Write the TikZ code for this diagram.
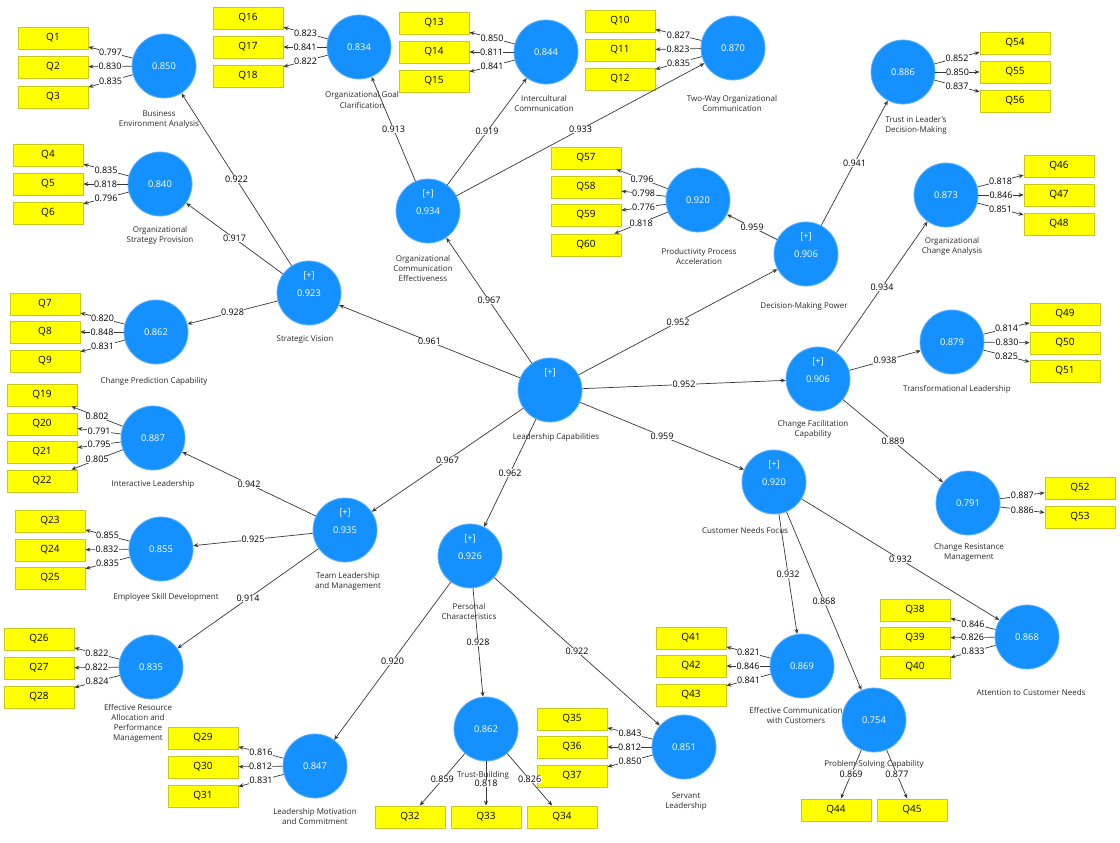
\documentclass[tikz,border=0pt]{standalone}
\usepackage{fontspec}
\setmainfont{Open Sans}
\usetikzlibrary{arrows.meta}
\definecolor{lvblue}{RGB}{20,145,255}
\definecolor{lvedge}{RGB}{95,178,255}
\definecolor{indyellow}{RGB}{255,255,0}
\definecolor{indedge}{RGB}{200,200,30}
\definecolor{pathgray}{RGB}{55,55,55}
\definecolor{namegray}{RGB}{40,40,40}
\tikzset{
  lv/.style={circle, fill=lvblue, draw=lvedge, line width=0.8pt, minimum size=64pt, inner sep=0pt, text=white, font=\fontsize{9.3}{10}\selectfont},
  hoc/.style={lv, label={[text=white, font=\fontsize{9.3}{10}\selectfont, yshift=17pt]center:{[+]}}},
  ind/.style={rectangle, fill=indyellow, draw=indedge, line width=0.8pt, minimum width=70pt, minimum height=22pt, inner sep=0pt, font=\fontsize{10}{11}\selectfont},
  lvname/.style={align=center, text=namegray, inner sep=1pt, font=\fontsize{8}{10}\selectfont},
  coef/.style={fill=white, inner sep=0.5pt, font=\fontsize{9}{9}\selectfont},
  rel/.style={-{Stealth[length=5pt,width=4pt]}, draw=pathgray, line width=0.7pt},
}
\begin{document}
\begin{tikzpicture}[x=1pt, y=-1pt]
\useasboundingbox (0,0) rectangle (1120,843);

\node (lc) at (550,390) [hoc] {};
\node (lc-n) at (556,437) [lvname] {Leadership Capabilities};

\node (sv) at (309,293) [hoc] {0.923};
\node (sv-n) at (305,340) [lvname] {Strategic Vision};
\node (oce) at (428,211) [hoc] {0.934};
\node (oce-n) at (423,268) [lvname] {Organizational\\Communication\\Effectiveness};
\node (dmp) at (806,254) [hoc] {0.906};
\node (dmp-n) at (804,306) [lvname] {Decision-Making Power};
\node (cfc) at (818,379) [hoc] {0.906};
\node (cfc-n) at (813,429) [lvname] {Change Facilitation\\Capability};
\node (cnf) at (774,482) [hoc] {0.920};
\node (cnf-n) at (745,530) [lvname] {Customer Needs Focus};
\node (pc) at (470,556) [hoc] {0.926};
\node (pc-n) at (469,611) [lvname] {Personal\\Characteristics};
\node (tlm) at (345,530) [hoc] {0.935};
\node (tlm-n) at (348,581) [lvname] {Team Leadership\\and Management};

\node (bea) at (164,66) [lv] {0.850};
\node (bea-n) at (159,120) [lvname] {Business\\Environment Analysis};
\node (osp) at (160,184) [lv] {0.840};
\node (osp-n) at (160,235) [lvname] {Organizational\\Strategy Provision};
\node (cpc) at (156,332) [lv] {0.862};
\node (cpc-n) at (154,381) [lvname] {Change Prediction Capability};
\node (ogc) at (359,47) [lv] {0.834};
\node (ogc-n) at (362,100) [lvname] {Organizational Goal\\Clarification};
\node (ic) at (546,52) [lv] {0.844};
\node (ic-n) at (544,104) [lvname] {Intercultural\\Communication};
\node (twoc) at (733,48) [lv] {0.870};
\node (twoc-n) at (732,104) [lvname] {Two-Way Organizational\\Communication};
\node (ppa) at (698,200) [lv] {0.920};
\node (ppa-n) at (699,256) [lvname] {Productivity Process\\Acceleration};
\node (tldm) at (903,72) [lv] {0.886};
\node (tldm-n) at (916,125) [lvname] {Trust in Leader's\\Decision-Making};
\node (oca) at (946,195) [lv] {0.873};
\node (oca-n) at (952,246) [lvname] {Organizational\\Change Analysis};
\node (tl) at (952,342) [lv] {0.879};
\node (tl-n) at (957,389) [lvname] {Transformational Leadership};
\node (crm) at (968,503) [lv] {0.791};
\node (crm-n) at (969,552) [lvname] {Change Resistance\\Management};
\node (ecc) at (802,666) [lv] {0.869};
\node (ecc-n) at (796,715) [lvname] {Effective Communication\\with Customers};
\node (psc) at (874,720) [lv] {0.754};
\node (psc-n) at (874,764) [lvname] {Problem-Solving Capability};
\node (acn) at (1027,637) [lv] {0.868};
\node (acn-n) at (1031,692) [lvname] {Attention to Customer Needs};
\node (il) at (153,438) [lv] {0.887};
\node (il-n) at (153,484) [lvname] {Interactive Leadership};
\node (esd) at (161,549) [lv] {0.855};
\node (esd-n) at (166,597) [lvname] {Employee Skill Development};
\node (era) at (151,667) [lv] {0.835};
\node (era-n) at (138,723) [lvname] {Effective Resource\\Allocation and\\Performance\\Management};
\node (lmc) at (315,766) [lv] {0.847};
\node (lmc-n) at (315,816) [lvname] {Leadership Motivation\\and Commitment};
\node (tb) at (486,729) [lv] {0.862};
\node (tb-n) at (483,775) [lvname] {Trust-Building};
\node (sl) at (684,747) [lv] {0.851};
\node (sl-n) at (686,802) [lvname] {Servant\\Leadership};

\node (q1) at (53,38) [ind] {Q1};
\node (q2) at (53,67) [ind] {Q2};
\node (q3) at (53,97) [ind] {Q3};
\node (q4) at (48,155) [ind] {Q4};
\node (q5) at (48,184) [ind] {Q5};
\node (q6) at (48,213) [ind] {Q6};
\node (q7) at (45,304) [ind] {Q7};
\node (q8) at (45,332) [ind] {Q8};
\node (q9) at (45,361) [ind] {Q9};
\node (q10) at (620,21) [ind] {Q10};
\node (q11) at (620,50) [ind] {Q11};
\node (q12) at (620,79) [ind] {Q12};
\node (q13) at (434,23) [ind] {Q13};
\node (q14) at (434,52) [ind] {Q14};
\node (q15) at (434,81) [ind] {Q15};
\node (q16) at (248,18) [ind] {Q16};
\node (q17) at (248,47) [ind] {Q17};
\node (q18) at (248,76) [ind] {Q18};
\node (q19) at (42,395) [ind] {Q19};
\node (q20) at (42,424) [ind] {Q20};
\node (q21) at (42,452) [ind] {Q21};
\node (q22) at (42,481) [ind] {Q22};
\node (q23) at (50,521) [ind] {Q23};
\node (q24) at (50,550) [ind] {Q24};
\node (q25) at (50,578) [ind] {Q25};
\node (q26) at (39,639) [ind] {Q26};
\node (q27) at (39,668) [ind] {Q27};
\node (q28) at (39,697) [ind] {Q28};
\node (q29) at (203,738) [ind] {Q29};
\node (q30) at (203,767) [ind] {Q30};
\node (q31) at (203,796) [ind] {Q31};
\node (q32) at (410,817) [ind] {Q32};
\node (q33) at (486,817) [ind] {Q33};
\node (q34) at (562,817) [ind] {Q34};
\node (q35) at (572,719) [ind] {Q35};
\node (q36) at (572,747) [ind] {Q36};
\node (q37) at (572,776) [ind] {Q37};
\node (q38) at (915,610) [ind] {Q38};
\node (q39) at (915,638) [ind] {Q39};
\node (q40) at (915,667) [ind] {Q40};
\node (q41) at (691,638) [ind] {Q41};
\node (q42) at (691,666) [ind] {Q42};
\node (q43) at (691,695) [ind] {Q43};
\node (q44) at (836,810) [ind] {Q44};
\node (q45) at (912,810) [ind] {Q45};
\node (q46) at (1059,166) [ind] {Q46};
\node (q47) at (1059,195) [ind] {Q47};
\node (q48) at (1059,224) [ind] {Q48};
\node (q49) at (1065,314) [ind] {Q49};
\node (q50) at (1065,343) [ind] {Q50};
\node (q51) at (1065,371) [ind] {Q51};
\node (q52) at (1080,488) [ind] {Q52};
\node (q53) at (1080,517) [ind] {Q53};
\node (q54) at (1015,43) [ind] {Q54};
\node (q55) at (1015,72) [ind] {Q55};
\node (q56) at (1015,101) [ind] {Q56};
\node (q57) at (586,158) [ind] {Q57};
\node (q58) at (586,187) [ind] {Q58};
\node (q59) at (586,215) [ind] {Q59};
\node (q60) at (586,245) [ind] {Q60};

\draw[rel] (lc) -- node[coef] {0.961} (sv);
\draw[rel] (lc) -- node[coef] {0.967} (oce);
\draw[rel] (lc) -- node[coef] {0.952} (dmp);
\draw[rel] (lc) -- node[coef] {0.952} (cfc);
\draw[rel] (lc) -- node[coef] {0.959} (cnf);
\draw[rel] (lc) -- node[coef] {0.962} (pc);
\draw[rel] (lc) -- node[coef] {0.967} (tlm);
\draw[rel] (sv) -- node[coef] {0.922} (bea);
\draw[rel] (sv) -- node[coef] {0.917} (osp);
\draw[rel] (sv) -- node[coef] {0.928} (cpc);
\draw[rel] (oce) -- node[coef] {0.913} (ogc);
\draw[rel] (oce) -- node[coef] {0.919} (ic);
\draw[rel] (oce) -- node[coef] {0.933} (twoc);
\draw[rel] (dmp) -- node[coef] {0.959} (ppa);
\draw[rel] (dmp) -- node[coef] {0.941} (tldm);
\draw[rel] (cfc) -- node[coef] {0.934} (oca);
\draw[rel] (cfc) -- node[coef] {0.938} (tl);
\draw[rel] (cfc) -- node[coef] {0.889} (crm);
\draw[rel] (cnf) -- node[coef] {0.932} (ecc);
\draw[rel] (cnf) -- node[coef] {0.868} (psc);
\draw[rel] (cnf) -- node[coef] {0.932} (acn);
\draw[rel] (tlm) -- node[coef] {0.942} (il);
\draw[rel] (tlm) -- node[coef] {0.925} (esd);
\draw[rel] (tlm) -- node[coef] {0.914} (era);
\draw[rel] (pc) -- node[coef] {0.920} (lmc);
\draw[rel] (pc) -- node[coef] {0.928} (tb);
\draw[rel] (pc) -- node[coef] {0.922} (sl);

\draw[rel] (bea) -- node[coef] {0.797} (q1);
\draw[rel] (bea) -- node[coef] {0.830} (q2);
\draw[rel] (bea) -- node[coef] {0.835} (q3);
\draw[rel] (osp) -- node[coef] {0.835} (q4);
\draw[rel] (osp) -- node[coef] {0.818} (q5);
\draw[rel] (osp) -- node[coef] {0.796} (q6);
\draw[rel] (cpc) -- node[coef] {0.820} (q7);
\draw[rel] (cpc) -- node[coef] {0.848} (q8);
\draw[rel] (cpc) -- node[coef] {0.831} (q9);
\draw[rel] (twoc) -- node[coef] {0.827} (q10);
\draw[rel] (twoc) -- node[coef] {0.823} (q11);
\draw[rel] (twoc) -- node[coef] {0.835} (q12);
\draw[rel] (ic) -- node[coef] {0.850} (q13);
\draw[rel] (ic) -- node[coef] {0.811} (q14);
\draw[rel] (ic) -- node[coef] {0.841} (q15);
\draw[rel] (ogc) -- node[coef] {0.823} (q16);
\draw[rel] (ogc) -- node[coef] {0.841} (q17);
\draw[rel] (ogc) -- node[coef] {0.822} (q18);
\draw[rel] (il) -- node[coef] {0.802} (q19);
\draw[rel] (il) -- node[coef] {0.791} (q20);
\draw[rel] (il) -- node[coef] {0.795} (q21);
\draw[rel] (il) -- node[coef] {0.805} (q22);
\draw[rel] (esd) -- node[coef] {0.855} (q23);
\draw[rel] (esd) -- node[coef] {0.832} (q24);
\draw[rel] (esd) -- node[coef] {0.835} (q25);
\draw[rel] (era) -- node[coef] {0.822} (q26);
\draw[rel] (era) -- node[coef] {0.822} (q27);
\draw[rel] (era) -- node[coef] {0.824} (q28);
\draw[rel] (lmc) -- node[coef] {0.816} (q29);
\draw[rel] (lmc) -- node[coef] {0.812} (q30);
\draw[rel] (lmc) -- node[coef] {0.831} (q31);
\draw[rel] (tb) -- node[coef] {0.859} (q32);
\draw[rel] (tb) -- node[coef] {0.818} (q33);
\draw[rel] (tb) -- node[coef] {0.826} (q34);
\draw[rel] (sl) -- node[coef] {0.843} (q35);
\draw[rel] (sl) -- node[coef] {0.812} (q36);
\draw[rel] (sl) -- node[coef] {0.850} (q37);
\draw[rel] (acn) -- node[coef] {0.846} (q38);
\draw[rel] (acn) -- node[coef] {0.826} (q39);
\draw[rel] (acn) -- node[coef] {0.833} (q40);
\draw[rel] (ecc) -- node[coef] {0.821} (q41);
\draw[rel] (ecc) -- node[coef] {0.846} (q42);
\draw[rel] (ecc) -- node[coef] {0.841} (q43);
\draw[rel] (psc) -- node[coef] {0.869} (q44);
\draw[rel] (psc) -- node[coef] {0.877} (q45);
\draw[rel] (oca) -- node[coef] {0.818} (q46);
\draw[rel] (oca) -- node[coef] {0.846} (q47);
\draw[rel] (oca) -- node[coef] {0.851} (q48);
\draw[rel] (tl) -- node[coef] {0.814} (q49);
\draw[rel] (tl) -- node[coef] {0.830} (q50);
\draw[rel] (tl) -- node[coef] {0.825} (q51);
\draw[rel] (crm) -- node[coef] {0.887} (q52);
\draw[rel] (crm) -- node[coef] {0.886} (q53);
\draw[rel] (tldm) -- node[coef] {0.852} (q54);
\draw[rel] (tldm) -- node[coef] {0.850} (q55);
\draw[rel] (tldm) -- node[coef] {0.837} (q56);
\draw[rel] (ppa) -- node[coef] {0.796} (q57);
\draw[rel] (ppa) -- node[coef] {0.798} (q58);
\draw[rel] (ppa) -- node[coef] {0.776} (q59);
\draw[rel] (ppa) -- node[coef] {0.818} (q60);
\end{tikzpicture}
\end{document}
